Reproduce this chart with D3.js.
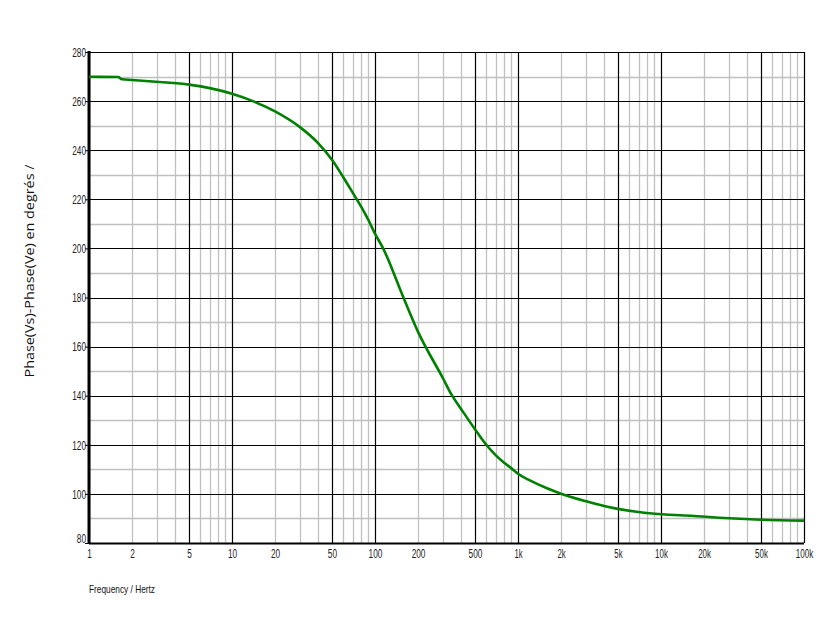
<!DOCTYPE html>
<html><head><meta charset="utf-8">
<script src="https://cdn.jsdelivr.net/npm/d3@7"></script>
<style>
body{margin:0;background:#fff;}
text{font-family:"Liberation Sans","DejaVu Sans",sans-serif;}
</style></head>
<body><svg id="c" width="840" height="630"></svg>
<script>
const freqs = [1,1.6,1.7,2,3.1,5,10,14,20,30,40,50,60,70,80,90,100,114,158,200,300,343,400,516,600,700,800,900,1000,1210,1580,2000,3000,4000,5000,7170,10100,16900,25500,50000,100000];
const phase = [269.9,269.8,268.9,268.6,267.8,266.7,263.0,260.0,255.8,249.3,242.9,236.1,229.0,222.6,217.0,211.5,206.0,200.0,180.0,166.0,146.9,140.4,134.6,125.2,120.0,115.7,112.7,110.4,108.2,105.5,102.4,100.1,97.0,95.1,93.9,92.5,91.7,91.0,90.3,89.5,89.1];
const xTicks = [1,2,5,10,20,50,100,200,500,1000,2000,5000,10000,20000,50000,100000];
const xTickLabels = ["1","2","5","10","20","50","100","200","500","1k","2k","5k","10k","20k","50k","100k"];
const yTicks = [80,100,120,140,160,180,200,220,240,260,280];

const svg = d3.select("#c");
const L=89,R=804,T=52,B=543;
const x = d3.scaleLog().domain([1,100000]).range([L,R]);
const y = d3.scaleLinear().domain([80,280]).range([B,T]);

const minors=[];
for(let d=1; d<100000; d*=10){ for(let k=2;k<=9;k++){ if(k!==5) minors.push(d*k);} }
const majorsV=[];
for(let d=1; d<=100000; d*=10){ majorsV.push(d); if(d<100000) majorsV.push(d*5); }
const g = svg.append("g");
g.selectAll(".vm").data(minors).enter().append("line")
 .attr("x1",d=>Math.round(x(d))+0.5).attr("x2",d=>Math.round(x(d))+0.5).attr("y1",T).attr("y2",B)
 .attr("stroke","#c0c0c0").attr("stroke-width",1.3);
const minorsH=d3.range(90,280,20);
g.selectAll(".hm").data(minorsH).enter().append("line")
 .attr("x1",L).attr("x2",R).attr("y1",d=>Math.round(y(d))+0.5).attr("y2",d=>Math.round(y(d))+0.5)
 .attr("stroke","#c0c0c0").attr("stroke-width",1.3);
g.selectAll(".vM").data(majorsV).enter().append("line")
 .attr("x1",d=>Math.round(x(d))+0.5).attr("x2",d=>Math.round(x(d))+0.5).attr("y1",T).attr("y2",B)
 .attr("stroke","#000").attr("stroke-width",1.2);
g.selectAll(".hM").data(yTicks).enter().append("line")
 .attr("x1",L).attr("x2",R).attr("y1",d=>Math.round(y(d))+0.5).attr("y2",d=>Math.round(y(d))+0.5)
 .attr("stroke","#000").attr("stroke-width",1.2);

function condense(sel){
  sel.each(function(){
    const t=this.textContent;
    let w=0; for(const c of t){ w += (c==="k")?3.6:4.6; }
    d3.select(this).attr("textLength",w).attr("lengthAdjust","spacingAndGlyphs");
  });
}

const yAxis = d3.axisLeft(y).tickValues(yTicks).tickSize(4).tickFormat(d3.format("d"));
const ya = svg.append("g").attr("transform",`translate(${L},0)`).call(yAxis);
ya.select(".domain").remove();
ya.selectAll("line").attr("stroke","#000");
ya.selectAll("text").attr("font-size",12).attr("fill","#222").attr("x",-3).attr("dy","0.35em").call(condense);
ya.selectAll("text").filter(d=>d===80).attr("dy","-0.05em");

const xAxis = d3.axisBottom(x).tickValues(xTicks).tickSize(0).tickFormat((d,i)=>xTickLabels[i]);
const xa = svg.append("g").attr("transform",`translate(0,${B})`).call(xAxis);
xa.select(".domain").remove();
xa.selectAll("text").attr("font-size",12).attr("fill","#222").attr("y",6).attr("dy","0.71em").call(condense);

svg.append("line").attr("x1",L).attr("x2",L).attr("y1",T-1).attr("y2",B+1).attr("stroke","#000").attr("stroke-width",3);
svg.append("line").attr("x1",L).attr("x2",R).attr("y1",B+0.5).attr("y2",B+0.5).attr("stroke","#000").attr("stroke-width",2);

const line = d3.line().x((d,i)=>x(freqs[i])).y(d=>y(d)).curve(d3.curveMonotoneX);
svg.append("path").datum(phase).attr("d",line).attr("fill","none").attr("stroke","#008000").attr("stroke-width",2.6);

svg.append("text").attr("transform","translate(34,271) rotate(-90)").attr("text-anchor","middle")
 .style("font-family","'Open Sans','Noto Sans',sans-serif").attr("font-size",13).attr("fill","#111")
 .attr("textLength",213).attr("lengthAdjust","spacingAndGlyphs")
 .text("Phase(Vs)-Phase(Ve) en degrés /");
svg.append("text").attr("x",89).attr("y",593).attr("font-size",11).attr("fill","#111")
 .attr("textLength",66).attr("lengthAdjust","spacingAndGlyphs").text("Frequency / Hertz");
</script></body></html>
